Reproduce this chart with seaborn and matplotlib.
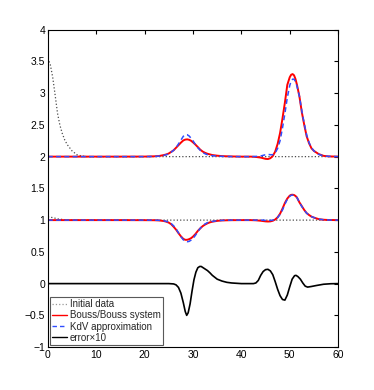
import numpy as np
import pandas as pd
import matplotlib
matplotlib.use('Agg')
import matplotlib.pyplot as plt
import seaborn as sns

# shared grid for the two wave profiles (upper level 2, lower level 1)
x_wave = [0, 5, 10, 15, 20,
          22, 23, 24, 24.5, 25, 25.5, 26, 26.5, 27, 27.5, 28, 28.4, 28.8, 29.2, 29.6,
          30, 30.5, 31, 31.5, 32, 32.5, 33, 33.5, 34, 35, 36, 38,
          40,
          42, 43, 44, 44.5, 45, 45.5, 46, 46.5, 47, 47.5, 48, 48.5, 49, 49.5, 50,
          50.3, 50.6, 50.9, 51.2, 51.5, 52, 52.5, 53, 53.5, 54, 54.5, 55, 56, 57, 58, 60]

bouss_upper = [2, 2, 2, 2, 2.001,
               2.005, 2.01, 2.025, 2.035, 2.05, 2.075, 2.10, 2.14, 2.18, 2.22, 2.255, 2.268, 2.272,
               2.265, 2.25, 2.225, 2.19, 2.15, 2.11, 2.08, 2.06, 2.045, 2.035, 2.025, 2.015, 2.008, 2.003,
               2.0,
               2.0, 1.995, 1.985, 1.975, 1.965, 1.962, 1.975, 2.01, 2.08, 2.2, 2.37, 2.6, 2.85, 3.13, 3.25,
               3.29, 3.30, 3.28, 3.22, 3.13, 2.95, 2.70, 2.50, 2.32, 2.21, 2.13, 2.09, 2.04, 2.012, 2.004, 2.0]

kdv_upper = [2, 2, 2, 2, 2.0,
             2.003, 2.008, 2.02, 2.03, 2.045, 2.07, 2.10, 2.14, 2.20, 2.26, 2.32, 2.345, 2.345,
             2.325, 2.29, 2.25, 2.19, 2.14, 2.1, 2.065, 2.045, 2.03, 2.02, 2.015, 2.008, 2.004, 2.001,
             2.0,
             2.0, 2.003, 2.01, 2.02, 2.03, 2.035, 2.03, 2.03, 2.06, 2.13, 2.25, 2.45, 2.68, 2.93, 3.12,
             3.19, 3.22, 3.22, 3.18, 3.11, 2.95, 2.72, 2.52, 2.34, 2.22, 2.14, 2.09, 2.035, 2.012, 2.004, 2.0]

bouss_lower = [1, 1, 1, 1, 0.999,
               0.998, 0.995, 0.985, 0.975, 0.96, 0.935, 0.895, 0.85, 0.795, 0.745, 0.705, 0.69, 0.69,
               0.70, 0.715, 0.74, 0.78, 0.83, 0.87, 0.905, 0.93, 0.95, 0.965, 0.975, 0.988, 0.995, 0.999,
               1.0,
               1.0, 0.997, 0.99, 0.985, 0.98, 0.978, 0.98, 0.99, 1.01, 1.045, 1.10, 1.18, 1.27, 1.34, 1.385,
               1.398, 1.40, 1.395, 1.38, 1.355, 1.28, 1.22, 1.16, 1.11, 1.08, 1.055, 1.04, 1.015, 1.006, 1.002, 1.0]

kdv_lower = [1, 1, 1, 1, 1.0,
             0.999, 0.997, 0.99, 0.98, 0.965, 0.945, 0.91, 0.865, 0.80, 0.74, 0.69, 0.665, 0.66,
             0.665, 0.685, 0.71, 0.76, 0.82, 0.87, 0.91, 0.94, 0.96, 0.972, 0.98, 0.99, 0.996, 1.0,
             1.0,
             1.0, 1.0, 1.0, 1.0, 0.995, 0.995, 0.995, 1.0, 1.015, 1.04, 1.09, 1.16, 1.25, 1.33, 1.375,
             1.39, 1.395, 1.39, 1.38, 1.355, 1.28, 1.215, 1.155, 1.11, 1.08, 1.055, 1.04, 1.015, 1.006, 1.002, 1.0]

# initial data
x_init_upper = [0, 0.5, 1, 1.5, 2, 2.5, 3, 3.5, 4, 5, 6, 7, 8, 60]
init_upper = [3.55, 3.45, 3.25, 2.97, 2.68, 2.49, 2.36, 2.26, 2.19, 2.09, 2.03, 2.01, 2.0, 2.0]
x_init_lower = [0, 1, 2, 3, 4, 60]
init_lower = [1.05, 1.04, 1.02, 1.01, 1.0, 1.0]

# error x 10
x_err = [0, 10, 20, 25, 26, 26.5, 27, 27.5, 28, 28.4, 28.7, 29, 29.4, 29.8, 30.2, 30.6, 31, 31.4, 31.7, 32,
         32.5, 33, 33.5, 34, 35, 36, 37, 38, 40, 42, 42.5, 43, 43.5, 44, 44.5, 45, 45.5, 46, 46.5, 47,
         47.5, 48, 48.5, 49, 49.5, 50, 50.5, 51, 51.3, 51.7, 52.2, 52.7, 53.2, 53.7, 54.5, 55.5, 57, 58.5, 60]
err10 = [0, 0, 0, 0, -0.005, -0.02, -0.06, -0.15, -0.30, -0.44, -0.50, -0.46, -0.32, -0.12, 0.06, 0.18, 0.25, 0.27, 0.27, 0.255,
         0.23, 0.205, 0.17, 0.13, 0.07, 0.04, 0.02, 0.01, 0.0, 0.0, 0.0, 0.01, 0.05, 0.13, 0.19, 0.22, 0.225, 0.2, 0.14, 0.03,
         -0.09, -0.19, -0.25, -0.26, -0.18, -0.05, 0.07, 0.125, 0.13, 0.11, 0.07, 0.01, -0.04, -0.055, -0.045, -0.03, -0.01, -0.002, 0.0]

xticks = [0, 10, 20, 30, 40, 50, 60]
yticks = [-1, -0.5, 0, 0.5, 1, 1.5, 2, 2.5, 3, 3.5, 4]

sns.set_style('white')
plt.rcParams['font.family'] = ['Liberation Sans', 'DejaVu Sans']
plt.rcParams['axes.unicode_minus'] = False

fig = plt.figure(figsize=(3.74, 3.90), dpi=100)
ax = fig.add_axes([0.128, 0.11, 0.776, 0.814])

dot_kw = dict(color='0.3', linestyle=':', linewidth=0.9, estimator=None, sort=False)
sns.lineplot(x=x_init_upper, y=init_upper, ax=ax, **dot_kw)
sns.lineplot(x=x_init_lower, y=init_lower, ax=ax, **dot_kw)

red_kw = dict(color='#ff0000', linewidth=1.4, estimator=None, sort=False)
sns.lineplot(x=x_wave, y=bouss_upper, ax=ax, **red_kw)
sns.lineplot(x=x_wave, y=bouss_lower, ax=ax, **red_kw)

blue_kw = dict(color='#2f4dff', linewidth=1.1, estimator=None, sort=False)
for yv in (kdv_upper, kdv_lower):
    sns.lineplot(x=x_wave, y=yv, ax=ax, **blue_kw)
for ln in ax.lines[4:6]:
    ln.set_dashes([3.2, 2.2])

sns.lineplot(x=x_err, y=err10, ax=ax, color='black', linewidth=1.2, estimator=None, sort=False)

lines = ax.lines
handles = [lines[0], lines[2], lines[4], lines[6]]
labels = ['Initial data', 'Bouss/Bouss system', 'KdV approximation', 'error\u00d710']
leg = ax.legend(handles, labels, loc='lower left', fontsize=7, frameon=True, fancybox=False,
                borderaxespad=0.25, borderpad=0.2, labelspacing=0.12, handlelength=1.5,
                handletextpad=0.3, framealpha=1)
leg.get_frame().set_edgecolor('0.35')
leg.get_frame().set_linewidth(0.8)
leg.legend_handles[0].set_color('0.6')
leg.legend_handles[1].set_linewidth(1.0)
leg.legend_handles[2].set_linewidth(1.0)
leg.legend_handles[3].set_linewidth(1.0)

ax.set_xlim(0, 60)
ax.set_ylim(-1, 4)
ax.set_xticks(xticks)
ax.set_yticks(yticks)
ax.set_yticklabels([('%g' % v).replace('-', '\u2212') for v in yticks])
ax.tick_params(direction='in', length=3, width=0.8, labelsize=7.5, top=True, right=True,
               colors='black', pad=2)
for sp in ax.spines.values():
    sp.set_visible(True)
    sp.set_color('black')
    sp.set_linewidth(0.8)
ax.set_xlabel('')
ax.set_ylabel('')

fig.savefig('out.png', dpi=100)
